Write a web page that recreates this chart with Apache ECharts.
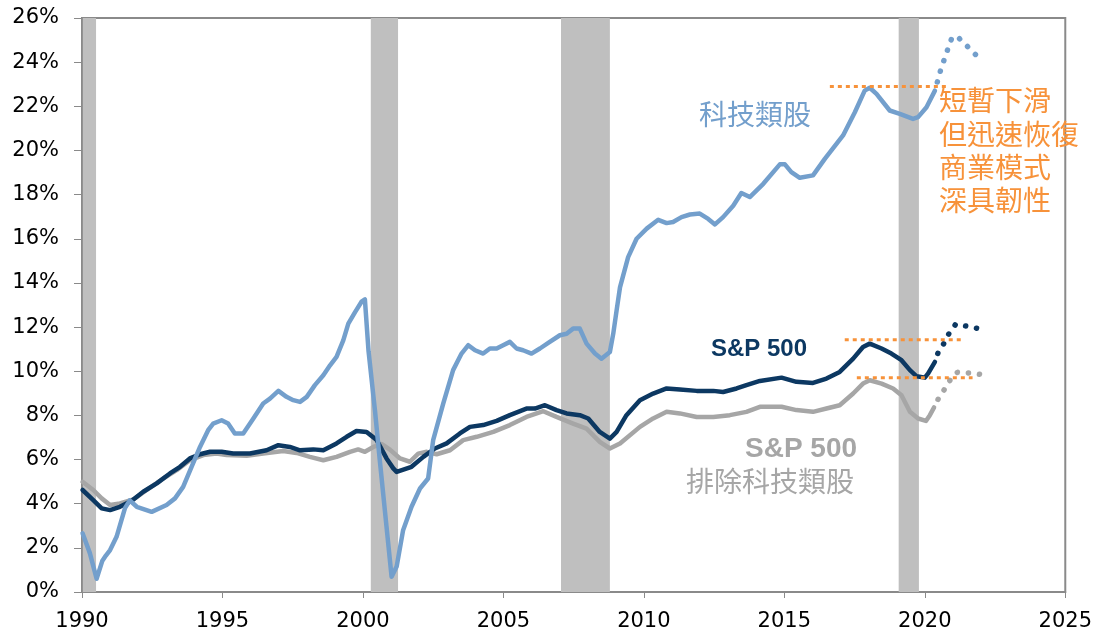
<!DOCTYPE html>
<html>
<head>
<meta charset="utf-8">
<script src="https://cdn.jsdelivr.net/npm/echarts@6/dist/echarts.min.js"></script>
<style>
  html, body { margin: 0; padding: 0; background: #fff; }
  #main { width: 1095px; height: 635px; }
</style>
</head>
<body>
<div id="main"></div>
<script>
// [year, margin %]
var techData = [
  [1990.02, 2.66], [1990.28, 1.76], [1990.52, 0.6], [1990.72, 1.4], [1990.85, 1.65], [1991.0, 1.9],
  [1991.23, 2.5], [1991.53, 3.8], [1991.7, 4.15], [1991.95, 3.86], [1992.48, 3.63], [1993.01, 3.94],
  [1993.31, 4.24], [1993.6, 4.76], [1993.9, 5.67], [1994.2, 6.57], [1994.49, 7.33], [1994.67, 7.63],
  [1994.97, 7.78], [1995.2, 7.63], [1995.44, 7.18], [1995.74, 7.18], [1996.1, 7.86], [1996.45, 8.54],
  [1996.69, 8.76], [1996.99, 9.11], [1997.28, 8.84], [1997.52, 8.69], [1997.76, 8.61], [1998.0, 8.84],
  [1998.29, 9.37], [1998.59, 9.82], [1998.83, 10.27], [1999.06, 10.65], [1999.3, 11.4], [1999.48, 12.16],
  [1999.72, 12.68], [1999.95, 13.15], [2000.07, 13.25], [2000.2, 10.9], [2000.43, 8.2], [2000.6, 5.97],
  [2000.84, 2.95], [2001.02, 0.69], [2001.2, 1.15], [2001.43, 2.8], [2001.73, 3.86], [2002.03, 4.69],
  [2002.32, 5.14], [2002.5, 6.88], [2002.86, 8.54], [2003.21, 10.05], [2003.51, 10.8], [2003.75, 11.18],
  [2003.99, 10.95], [2004.28, 10.8], [2004.52, 11.03], [2004.76, 11.03], [2004.99, 11.18], [2005.23, 11.33],
  [2005.47, 11.03], [2005.7, 10.95], [2006.0, 10.8], [2006.3, 11.03], [2006.65, 11.33], [2007.01, 11.63],
  [2007.25, 11.7], [2007.48, 11.93], [2007.72, 11.93], [2007.96, 11.25], [2008.26, 10.8], [2008.49, 10.57],
  [2008.79, 10.87], [2008.91, 11.7], [2009.03, 12.76], [2009.15, 13.8], [2009.44, 15.17], [2009.74, 16.0],
  [2010.1, 16.46], [2010.51, 16.86], [2010.81, 16.71], [2011.04, 16.76], [2011.34, 16.98], [2011.64, 17.1],
  [2011.99, 17.14], [2012.29, 16.9], [2012.53, 16.65], [2012.82, 16.98], [2013.18, 17.5], [2013.47, 18.07],
  [2013.77, 17.89], [2014.25, 18.49], [2014.84, 19.37], [2015.02, 19.37], [2015.25, 19.02], [2015.55, 18.76],
  [2016.02, 18.87], [2016.44, 19.62], [2017.09, 20.68], [2017.51, 21.73], [2017.86, 22.71], [2018.04, 22.84],
  [2018.28, 22.56], [2018.75, 21.81], [2019.11, 21.66], [2019.58, 21.43], [2019.76, 21.51], [2020.06, 21.96],
  [2020.36, 22.71]
];
var techFcst = [
  [2020.36, 22.71], [2020.57, 23.67], [2020.83, 24.63], [2020.98, 25.16], [2021.22, 25.08], [2021.52, 24.71], [2021.81, 24.34]
];

var spData = [
  [1990.02, 4.62], [1990.4, 4.16], [1990.7, 3.79], [1991.0, 3.71], [1991.35, 3.86], [1991.77, 4.13],
  [1992.18, 4.54], [1992.66, 4.92], [1993.13, 5.37], [1993.49, 5.67], [1993.84, 6.05], [1994.2, 6.24],
  [1994.56, 6.35], [1994.97, 6.35], [1995.38, 6.27], [1995.98, 6.27], [1996.57, 6.42], [1996.99, 6.65],
  [1997.4, 6.57], [1997.76, 6.42], [1998.23, 6.46], [1998.59, 6.42], [1999.06, 6.73], [1999.42, 7.03],
  [1999.77, 7.29], [2000.13, 7.25], [2000.49, 6.88], [2000.84, 6.05], [2001.08, 5.6], [2001.2, 5.44],
  [2001.73, 5.67], [2002.15, 6.12], [2002.56, 6.5], [2002.98, 6.73], [2003.45, 7.18], [2003.81, 7.48],
  [2004.28, 7.56], [2004.76, 7.75], [2005.23, 8.01], [2005.82, 8.31], [2006.12, 8.31], [2006.48, 8.46],
  [2006.89, 8.24], [2007.25, 8.09], [2007.72, 8.01], [2008.02, 7.86], [2008.43, 7.25], [2008.79, 6.95],
  [2009.03, 7.25], [2009.38, 8.01], [2009.86, 8.69], [2010.33, 8.99], [2010.81, 9.22], [2011.28, 9.17],
  [2011.88, 9.11], [2012.47, 9.11], [2012.82, 9.06], [2013.3, 9.22], [2013.65, 9.37], [2014.13, 9.56],
  [2014.9, 9.71], [2015.43, 9.52], [2016.02, 9.47], [2016.5, 9.67], [2016.97, 9.97], [2017.45, 10.57],
  [2017.8, 11.1], [2018.04, 11.25], [2018.46, 11.03], [2018.81, 10.8], [2019.17, 10.5], [2019.47, 10.05],
  [2019.71, 9.77], [2020.0, 9.71], [2020.12, 9.9], [2020.36, 10.42]
];
var spFcst = [
  [2020.36, 10.42], [2020.47, 10.83], [2020.69, 11.28], [2020.87, 11.73], [2021.1, 12.13], [2021.51, 12.04], [2021.91, 11.93]
];

var exTechData = [
  [1990.02, 4.99], [1990.4, 4.62], [1990.7, 4.24], [1991.0, 3.94], [1991.35, 4.01], [1991.83, 4.19],
  [1992.3, 4.62], [1992.89, 5.14], [1993.37, 5.52], [1993.84, 5.97], [1994.32, 6.2], [1994.79, 6.27],
  [1995.15, 6.2], [1995.86, 6.17], [1996.45, 6.27], [1997.16, 6.39], [1997.64, 6.3], [1998.11, 6.12],
  [1998.59, 5.97], [1999.06, 6.12], [1999.54, 6.35], [1999.83, 6.46], [2000.07, 6.35], [2000.37, 6.57],
  [2000.67, 6.7], [2000.96, 6.45], [2001.32, 6.05], [2001.67, 5.9], [2001.97, 6.27], [2002.27, 6.35],
  [2002.62, 6.24], [2003.1, 6.42], [2003.57, 6.88], [2004.05, 7.03], [2004.64, 7.25], [2005.23, 7.56],
  [2005.82, 7.93], [2006.42, 8.19], [2006.89, 7.93], [2007.48, 7.63], [2007.96, 7.4], [2008.43, 6.8],
  [2008.79, 6.5], [2009.15, 6.73], [2009.86, 7.48], [2010.33, 7.86], [2010.81, 8.16], [2011.28, 8.09],
  [2011.88, 7.93], [2012.47, 7.93], [2013.06, 8.01], [2013.65, 8.16], [2014.13, 8.39], [2014.9, 8.39],
  [2015.43, 8.24], [2016.02, 8.16], [2016.5, 8.31], [2016.97, 8.46], [2017.45, 8.99], [2017.8, 9.44],
  [2018.04, 9.59], [2018.46, 9.44], [2018.87, 9.22], [2019.17, 8.91], [2019.47, 8.16], [2019.76, 7.86],
  [2020.04, 7.75], [2020.18, 8.01], [2020.33, 8.36]
];
var exTechFcst = [
  [2020.33, 8.36], [2020.48, 8.75], [2020.71, 9.2], [2020.91, 9.62], [2021.16, 9.95], [2021.58, 9.92], [2021.98, 9.86]
];

// recession shading [start, end]
var recessions = [[1990.03, 1990.5], [2000.28, 2001.25], [2007.05, 2008.79], [2019.07, 2019.79]];

// orange reference levels [from, to, level]
var refLines = [[2016.62, 2020.78, 22.9], [2017.15, 2021.32, 11.43], [2017.58, 2021.7, 9.71]];

var chartDom = document.getElementById("main");
var myChart = echarts.init(chartDom);
var option;

var BLUE = "#739fcc", NAVY = "#0c3862", GREY = "#a6a6a6", ORANGE = "#f7923a";
var latin = "'Liberation Sans', Arial, sans-serif";
var axisFont = "'DejaVu Sans', sans-serif";
var cjk = "'Noto Sans CJK TC', 'Noto Sans CJK SC', sans-serif";

function solid(name, data, color, z) {
  return {
    name: name, type: "line", data: data, symbol: "none", z: z,
    lineStyle: { color: color, width: 4.5, join: "round", cap: "round" }
  };
}
function dots(name, data, color, z) {
  return {
    name: name, type: "line", data: data, symbol: "none", z: z,
    lineStyle: { color: color, width: 5.5, type: [0.1, 11], cap: "round", dashOffset: -9 }
  };
}

var series = [
  {
    type: "line", data: [], z: 1,
    markArea: {
      silent: true,
      itemStyle: { color: "#bfbfbf" },
      data: recessions.map(function (r) { return [{ xAxis: r[0] }, { xAxis: r[1] }]; })
    }
  },
  solid("exTech", exTechData, GREY, 3),
  dots("exTechF", exTechFcst, GREY, 3),
  solid("sp", spData, NAVY, 4),
  dots("spF", spFcst, NAVY, 4),
  solid("tech", techData, BLUE, 5),
  dots("techF", techFcst, BLUE, 5)
];
refLines.forEach(function (r, i) {
  series.push({
    name: "ref" + i, type: "line", symbol: "none", z: 6,
    data: [[r[0], r[2]], [r[1], r[2]]],
    lineStyle: { color: ORANGE, width: 3, type: [4, 4] }
  });
});

function txt(x, y, s, color, size, weight, font) {
  return {
    type: "text", left: x, top: y, z: 10,
    style: { text: s, fill: color, font: (weight || "normal") + " " + size + "px " + font }
  };
}

option = {
  animation: false,
  grid: { left: 82, right: 29, top: 18, bottom: 43, show: true, borderColor: "#8a8a8a", borderWidth: 2 },
  xAxis: {
    type: "value", min: 1990, max: 2025, interval: 5,
    axisLine: { lineStyle: { color: "#8a8a8a", width: 2 } },
    axisTick: { length: 6, lineStyle: { color: "#8a8a8a" } },
    axisLabel: {
      color: "#000", fontSize: 21, fontFamily: axisFont, margin: 19,
      formatter: function (v) { return String(v); }
    },
    splitLine: { show: false }
  },
  yAxis: {
    type: "value", min: 0, max: 26, interval: 2,
    axisLine: { show: true, lineStyle: { color: "#8a8a8a", width: 2 } },
    axisTick: { show: true, length: 8, lineStyle: { color: "#8a8a8a" } },
    axisLabel: { color: "#000", fontSize: 21, fontFamily: axisFont, margin: 23, formatter: "{value}%" },
    splitLine: { show: false }
  },
  graphic: [
    txt(699, 100, "科技類股", BLUE, 28, "normal", cjk),
    txt(711, 337, "S&P 500", NAVY, 24, "bold", latin),
    txt(745, 435, "S&P 500", GREY, 28, "bold", latin),
    txt(686, 467, "排除科技類股", GREY, 28, "normal", cjk),
    txt(939, 86, "短暫下滑", ORANGE, 28, "normal", cjk),
    txt(939, 120, "但迅速恢復", ORANGE, 28, "normal", cjk),
    txt(939, 153, "商業模式", ORANGE, 28, "normal", cjk),
    txt(939, 186, "深具韌性", ORANGE, 28, "normal", cjk)
  ],
  series: series
};

option && myChart.setOption(option);
</script>
</body>
</html>
